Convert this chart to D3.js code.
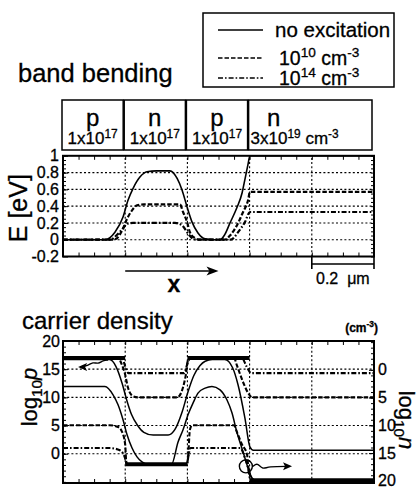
<!DOCTYPE html>
<html>
<head>
<meta charset="utf-8">
<script src="https://cdn.jsdelivr.net/npm/d3@7"></script>
<style>
    body { margin: 0; background: #fff; }
    svg { display: block; font-family: "Liberation Sans", Arial, Helvetica, sans-serif; }
    svg text { fill: #000; stroke: #000; stroke-width: 0.3; }
</style>
</head>
<body>
<div id="chart"></div>
<script>
// ---- data ----
const regionEdges = [0, 0.2, 0.4, 0.6, 1.0];           // um
const regionTypes = ["p", "n", "p", "n"];
const dopingBase = ["1x10", "1x10", "1x10", "3x10"];
const dopingExp = ["17", "17", "17", "19"];

const legendExp = ["", "10", "14"];                     // "" = no excitation

const energyTicks = [-0.2, 0, 0.2, 0.4, 0.6, 0.8, 1];
const energyLabels = ["-0.2", "0", "0.2", "0.4", "0.6", "0.8", "1"];
const energyGrid = [0, 0.2, 0.4, 0.6, 0.8];
const xGrid = [0.2, 0.4, 0.6, 0.8];
const logPTicks = [0, 5, 10, 15, 20];
const logNTicks = [0, 5, 10, 15, 20];

// band bending E [eV] vs x [um]
const bandSolid = [[0,0],[0.135,0],[0.167,0.09],[0.193,0.27],[0.209,0.47],[0.225,0.61],[0.248,0.75],[0.27,0.81],[0.3,0.82],
    [0.344,0.82],[0.367,0.73],[0.383,0.59],[0.399,0.39],[0.415,0.21],[0.434,0.08],[0.457,0.01],[0.48,0],[0.505,0],
    [0.52,0.06],[0.537,0.2],[0.559,0.38],[0.576,0.56],[0.585,0.72],[0.595,0.9],[0.601,1.0],[1.0,1.0]];
const bandDashed = [[0,0],[0.16,0],[0.174,0.02],[0.19,0.11],[0.206,0.25],[0.222,0.35],[0.238,0.41],[0.26,0.42],
    [0.376,0.42],[0.386,0.33],[0.399,0.21],[0.408,0.09],[0.424,0.02],[0.44,0],[0.52,0],[0.537,0.05],[0.559,0.17],
    [0.579,0.33],[0.595,0.47],[0.601,0.57],[1.0,0.57]];
const bandDashDot = [[0,0],[0.15,0],[0.177,0.07],[0.193,0.135],[0.206,0.19],[0.225,0.2],[0.36,0.2],[0.383,0.17],
    [0.402,0.075],[0.415,0.02],[0.43,0],[0.54,0],[0.563,0.09],[0.585,0.21],[0.601,0.33],[1.0,0.33]];

// carrier density, log10 p (left axis) and log10 n (right axis)
const pSolid = [[0,16.7],[0.15,16.7],[0.17,15.5],[0.19,12.5],[0.205,9.5],[0.22,7],[0.24,5],[0.26,3.8],[0.29,3.3],
    [0.338,3.3],[0.36,4.3],[0.383,7.4],[0.402,11],[0.42,13.8],[0.44,15.6],[0.457,16.4],[0.48,16.7],[0.52,16.7],
    [0.545,15.3],[0.563,12.2],[0.585,6.3],[0.601,1.2],[0.612,0.6],[1.0,0.6]];
const nSolid = [[0,3],[0.135,3],[0.161,4.5],[0.177,6.3],[0.193,9],[0.206,11.7],[0.222,14.1],[0.238,15.7],[0.254,16.6],
    [0.27,17],[0.349,17],[0.37,13],[0.386,10.8],[0.402,8.1],[0.418,6],[0.434,4.2],[0.457,3.3],[0.479,3],[0.505,3.6],
    [0.527,5.4],[0.543,7.7],[0.559,11.2],[0.579,14.8],[0.595,17.7],[0.608,19.5],[0.62,19.9],[1.0,19.9]];
const pDashed = [[0,17],[0.177,17],[0.19,15.7],[0.2,14],[0.209,11.7],[0.225,10.2],[0.24,10],[0.367,10],[0.376,10.4],
    [0.386,11.8],[0.395,14],[0.402,16.6],[0.41,17],[0.55,17],[0.559,15.7],[0.579,12.7],[0.595,10.8],[0.608,10],[1.0,10]];
const nDashed = [[0,10],[0.15,10],[0.177,10.3],[0.19,11.2],[0.2,13.5],[0.203,16.3],[0.206,17],[0.398,17],[0.402,15.9],
    [0.408,10.8],[0.415,10],[0.55,10],[0.559,11.2],[0.576,13.5],[0.592,15.3],[0.595,17.1],[0.601,18.9],[0.608,19.9],[1.0,19.9]];
const pDashDot = [[0,17],[0.19,17],[0.2,15.5],[0.21,14.3],[0.39,14.3],[0.4,16],[0.41,17],[0.575,17],[0.59,15.5],
    [0.605,14.3],[1.0,14.3]];
const nDashDot = [[0,14.1],[0.15,14.1],[0.183,14.5],[0.2,16],[0.205,17],[0.398,17],[0.405,15],[0.41,14.1],[0.57,14.1],
    [0.585,15.9],[0.595,17.7],[0.601,19.5],[0.61,19.9],[1.0,19.9]];

// doping levels (thick lines): [x0, x1, value]
const dopingP = [[0, 0.2, 17], [0.4, 0.6, 17]];          // left axis
const dopingN = [[0.2, 0.4, 17], [0.6, 1.0, 19.9]];      // right axis

// annotation arrows
const pArrow = [[0.055,15.4],[0.08,15.6],[0.096,16.3],[0.113,15.9],[0.129,16.6],[0.145,16.6]];
const nArrowCenter = [0.588, 17.4];
const nArrow = [[0.611,17.4],[0.625,16.7],[0.641,18.0],[0.659,17.4],[0.73,17.4]];

// ---- layout ----
const width = 419, height = 489;
const dash = { solid: null, dashed: "4.5,2", dashdot: "5,2,1.6,2" };
const gridDash = "2,2.2";

const svg = d3.select("#chart").append("svg")
    .attr("width", width)
    .attr("height", height)
    .attr("viewBox", [0, 0, width, height]);

const x = d3.scaleLinear().domain([0, 1]).range([63, 374]);
const yE = d3.scaleLinear().domain([-0.2, 1]).range([256.5, 155.8]);
const yP = d3.scaleLinear().domain([-5.2, 20]).range([483, 341]);
const yN = d3.scaleLinear().domain([20.4, -5.2]).range([483, 341]);

// text with super/subscript parts: [[str, "n"|"sup"|"sub"], ...]
function richText(g, parts, size) {
    let shift = 0;
    parts.forEach(([s, kind]) => {
        const target = kind === "sup" ? -size * 0.38 : kind === "sub" ? size * 0.22 : 0;
        g.append("tspan")
            .attr("dy", target - shift)
            .attr("font-size", kind === "n" ? size : size * 0.7)
            .text(s);
        shift = target;
    });
    return g;
}

function frame(y0, y1) {
    svg.append("rect")
        .attr("x", x(0)).attr("y", y0)
        .attr("width", x(1) - x(0)).attr("height", y1 - y0)
        .attr("fill", "none").attr("stroke", "#000").attr("stroke-width", 2);
}

function grid(yScale, values) {
    const g = svg.append("g").attr("stroke", "#000").attr("stroke-width", 1.1).attr("stroke-dasharray", gridDash);
    g.selectAll(".h").data(values).join("line").attr("class", "h")
        .attr("x1", x(0)).attr("x2", x(1))
        .attr("y1", d => yScale(d)).attr("y2", d => yScale(d));
    g.selectAll(".v").data(xGrid).join("line").attr("class", "v")
        .attr("x1", d => x(d)).attr("x2", d => x(d))
        .attr("y1", yScale.range()[0]).attr("y2", yScale.range()[1]);
}

function minorTicks(yScale, yStep, yScaleRight) {
    const [yb, yt] = yScale.range();
    const xt = d3.range(0, 1.0001, 0.05);
    svg.append("g").attr("transform", `translate(0,${yb})`)
        .call(d3.axisBottom(x).tickValues(xt).tickSize(-4).tickFormat(""))
        .call(g => g.select(".domain").remove());
    svg.append("g").attr("transform", `translate(0,${yt})`)
        .call(d3.axisTop(x).tickValues(xt).tickSize(-4).tickFormat(""))
        .call(g => g.select(".domain").remove());
    const d = yScale.domain();
    svg.append("g").attr("transform", `translate(${x(0)},0)`)
        .call(d3.axisLeft(yScale).tickValues(d3.range(Math.ceil(d[0]), d[1] + 1e-6, yStep)).tickSize(-3).tickFormat(""))
        .call(g => g.select(".domain").remove());
    const r = yScaleRight || yScale;
    const dr = d3.extent(r.domain());
    svg.append("g").attr("transform", `translate(${x(1)},0)`)
        .call(d3.axisRight(r).tickValues(d3.range(Math.ceil(dr[0] / yStep) * yStep, dr[1] + 1e-6, yStep)).tickSize(-3).tickFormat(""))
        .call(g => g.select(".domain").remove());
}

function curve(data, yScale, style, w, clipId) {
    svg.append("path")
        .datum(data)
        .attr("clip-path", `url(#${clipId})`)
        .attr("fill", "none")
        .attr("stroke", "#000")
        .attr("stroke-width", w)
        .attr("stroke-dasharray", style)
        .attr("d", d3.line().x(d => x(d[0])).y(d => yScale(d[1])).curve(d3.curveMonotoneX));
}

const defs = svg.append("defs");
defs.append("clipPath").attr("id", "clipTop").append("rect")
    .attr("x", x(0)).attr("y", yE(1) - 1).attr("width", x(1) - x(0)).attr("height", yE(-0.2) - yE(1) + 1);
defs.append("clipPath").attr("id", "clipBot").append("rect")
    .attr("x", x(0)).attr("y", 341).attr("width", x(1) - x(0)).attr("height", 142);

// ---- legend ----
svg.append("rect").attr("x", 203).attr("y", 13).attr("width", 191).attr("height", 74)
    .attr("fill", "none").attr("stroke", "#000").attr("stroke-width", 1.5);
const legendY = [30, 58, 78];
const legendStyles = [dash.solid, dash.dashed, dash.dashdot];
legendExp.forEach((e, i) => {
    svg.append("line")
        .attr("x1", 218).attr("x2", 263).attr("y1", legendY[i]).attr("y2", legendY[i])
        .attr("stroke", "#000").attr("stroke-width", 1.5).attr("stroke-dasharray", legendStyles[i]);
    const t = svg.append("text").attr("x", i === 0 ? 275 : 279).attr("y", legendY[i] + 6.5).attr("font-size", 19.5);
    if (e === "") richText(t, [["no excitation", "n"]], 20.5);
    else richText(t, [["10", "n"], [e, "sup"], [" cm", "n"], ["-3", "sup"]], 19.5);
});

// ---- band bending ----
svg.append("text").attr("x", 18).attr("y", 82).attr("font-size", 25.5).text("band bending");

// region table
regionTypes.forEach((t, i) => {
    const x0 = x(regionEdges[i]) - 1, x1 = x(regionEdges[i + 1]) - 2;
    svg.append("rect").attr("x", x0).attr("y", 100).attr("width", x1 - x0).attr("height", 50)
        .attr("fill", "none").attr("stroke", "#000").attr("stroke-width", 1.5);
    const last = i === regionTypes.length - 1;
    svg.append("text")
        .attr("x", last ? x0 + 25 : (x0 + x1) / 2).attr("y", 126)
        .attr("text-anchor", "middle").attr("font-size", 24).text(t);
    const d = svg.append("text")
        .attr("x", last ? x0 + 2 : (x0 + x1) / 2).attr("y", 144)
        .attr("text-anchor", last ? "start" : "middle").attr("font-size", 17);
    const parts = [[dopingBase[i], "n"], [dopingExp[i], "sup"]];
    if (last) parts.push([" cm", "n"], ["-3", "sup"]);
    richText(d, parts, 17);
});

grid(yE, energyGrid);
minorTicks(yE, 0.05);
curve(bandSolid, yE, dash.solid, 1.6, "clipTop");
curve(bandDashed, yE, dash.dashed, 2.2, "clipTop");
curve(bandDashDot, yE, dash.dashdot, 2.2, "clipTop");
frame(yE(1), yE(-0.2));

svg.append("g").attr("transform", `translate(${x(0)},0)`)
    .call(d3.axisLeft(yE).tickValues(energyTicks).tickSize(-5).tickPadding(4)
        .tickFormat((d, i) => energyLabels[i]))
    .call(g => g.select(".domain").remove())
    .call(g => g.selectAll("text").attr("font-size", 16).attr("font-family", null));

svg.append("text")
    .attr("transform", `translate(27,${(yE(1) + yE(-0.2)) / 2 + 2}) rotate(-90)`)
    .attr("text-anchor", "middle").attr("font-size", 25).text("E [eV]");

// x direction arrow
svg.append("line").attr("x1", x(0.2)).attr("x2", x(0.5) - 6).attr("y1", 271).attr("y2", 271)
    .attr("stroke", "#000").attr("stroke-width", 1.6);
svg.append("path").attr("d", `M${x(0.5)},271 l-12,-4.5 l3,4.5 l-3,4.5 z`).attr("fill", "#000");
svg.append("text").attr("x", 174).attr("y", 292).attr("text-anchor", "middle")
    .attr("font-size", 23).attr("font-weight", "bold").text("x");

// 0.2 um scale bar
svg.append("path")
    .attr("d", `M${x(0.8)},257 V269 M${x(0.8)},264 H${x(1.0)} M${x(1.0)},257 V269`)
    .attr("fill", "none").attr("stroke", "#000").attr("stroke-width", 1.6);
svg.append("text").attr("x", 316).attr("y", 284).attr("font-size", 16)
    .attr("xml:space", "preserve").text("0.2  \u03bcm");

// ---- carrier density ----
svg.append("text").attr("x", 22).attr("y", 329).attr("font-size", 24).text("carrier density");
richText(svg.append("text").attr("x", 378).attr("y", 332).attr("text-anchor", "end")
    .attr("font-size", 12).attr("font-weight", "bold"), [["(cm", "n"], ["-3", "sup"], [")", "n"]], 12);

grid(yP, [0, 5, 10, 15]);
minorTicks(yP, 1, yN);

dopingP.forEach(([a, b, v]) => svg.append("line").attr("x1", x(a)).attr("x2", x(b))
    .attr("y1", yP(v)).attr("y2", yP(v)).attr("stroke", "#000").attr("stroke-width", 4));
dopingN.forEach(([a, b, v]) => svg.append("line").attr("x1", x(a)).attr("x2", x(b))
    .attr("y1", yN(v)).attr("y2", yN(v)).attr("stroke", "#000").attr("stroke-width", 4)
    .attr("clip-path", "url(#clipBot)"));

curve(pSolid, yP, dash.solid, 1.5, "clipBot");
curve(nSolid, yN, dash.solid, 1.5, "clipBot");
curve(pDashed, yP, dash.dashed, 2.1, "clipBot");
curve(nDashed, yN, dash.dashed, 2.1, "clipBot");
curve(pDashDot, yP, dash.dashdot, 2.1, "clipBot");
curve(nDashDot, yN, dash.dashdot, 2.1, "clipBot");
frame(341, 483);

svg.append("g").attr("transform", `translate(${x(0)},0)`)
    .call(d3.axisLeft(yP).tickValues(logPTicks).tickSize(-5).tickPadding(3))
    .call(g => g.select(".domain").remove())
    .call(g => g.selectAll("text").attr("font-size", 16).attr("font-family", null));
svg.append("g").attr("transform", `translate(${x(1)},0)`)
    .call(d3.axisRight(yN).tickValues(logNTicks).tickSize(-5).tickPadding(4))
    .call(g => g.select(".domain").remove())
    .call(g => g.selectAll("text").attr("font-size", 16).attr("font-family", null));

richText(svg.append("text")
    .attr("transform", `translate(37,${(341 + 483) / 2 - 15}) rotate(-90)`)
    .attr("text-anchor", "middle").attr("font-size", 22), [["log", "n"], ["10", "sub"], ["p", "n"]], 22)
    .selectAll("tspan").filter((d, i) => i === 2).attr("font-style", "italic");
richText(svg.append("text")
    .attr("transform", `translate(399,${(341 + 483) / 2 + 8}) rotate(90)`)
    .attr("text-anchor", "middle").attr("font-size", 22), [["log", "n"], ["10", "sub"], ["n", "n"]], 22)
    .selectAll("tspan").filter((d, i) => i === 2).attr("font-style", "italic");

// annotation arrows
const wiggle = d3.line().curve(d3.curveBasis);
svg.append("path")
    .attr("d", wiggle(pArrow.map(d => [x(d[0]), yP(d[1])])))
    .attr("fill", "none").attr("stroke", "#000").attr("stroke-width", 1.4);
const pa = [x(pArrow[0][0]), yP(pArrow[0][1])];
svg.append("path").attr("d", `M${pa[0] - 2},${pa[1]} l9,-4 l-2,4 l2,4 z`).attr("fill", "#000");

svg.append("circle")
    .attr("cx", x(nArrowCenter[0])).attr("cy", yN(nArrowCenter[1])).attr("r", 6.5)
    .attr("fill", "none").attr("stroke", "#000").attr("stroke-width", 1.4);
svg.append("path")
    .attr("d", wiggle(nArrow.map(d => [x(d[0]), yN(d[1])])))
    .attr("fill", "none").attr("stroke", "#000").attr("stroke-width", 1.4);
const na = [x(nArrow[nArrow.length - 1][0]), yN(nArrow[nArrow.length - 1][1])];
svg.append("path").attr("d", `M${na[0] + 2},${na[1]} l-9,-4 l2,4 l-2,4 z`).attr("fill", "#000");
</script>
</body>
</html>
